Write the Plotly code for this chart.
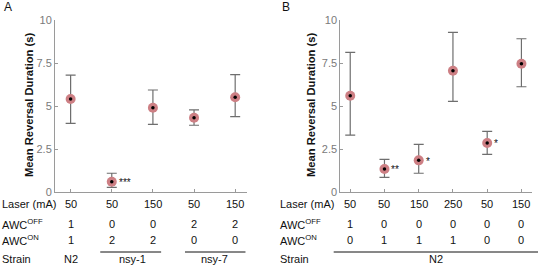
import plotly.graph_objects as go

W, H = 538, 266

# ---- Data ----
a_mean = [5.41, 0.60, 4.90, 4.32, 5.51]
a_upper = [6.80, 1.09, 5.93, 4.77, 6.82]
a_lower = [3.99, 0.27, 3.93, 3.88, 4.38]
a_stars = ["", "***", "", "", ""]
a_laser = ["50", "50", "150", "50", "150"]
a_awc_off = ["1", "0", "0", "2", "2"]
a_awc_on = ["1", "2", "2", "0", "0"]

b_mean = [5.60, 1.34, 1.84, 7.05, 2.85, 7.46]
b_upper = [8.12, 1.90, 2.77, 9.28, 3.53, 8.91]
b_lower = [3.31, 0.85, 1.09, 5.27, 2.19, 6.12]
b_stars = ["", "**", "*", "", "*", ""]
b_laser = ["50", "50", "150", "250", "50", "150"]
b_awc_off = ["1", "0", "0", "0", "0", "0"]
b_awc_on = ["0", "1", "1", "1", "0", "0"]

row_labels = ["Laser (mA)", "AWC<sup>OFF</sup>", "AWC<sup>ON</sup>", "Strain"]
yticks = [0, 2.5, 5, 7.5, 10]
yticktext = ["0", "2.5", "5", "7.5", "10"]

FONT = "Liberation Sans, Arial, sans-serif"
PINK = "#cd7f84"
GRAY = "#6e6e6e"
TXT = 11

fig = go.Figure()

def add_panel(xa, ya, mean, upper, lower):
    xs = list(range(1, len(mean) + 1))
    fig.add_trace(go.Scatter(
        x=xs, y=mean, mode="markers", xaxis=xa, yaxis=ya,
        marker=dict(size=10, color=PINK, line=dict(width=0)),
        error_y=dict(type="data", symmetric=False,
                     array=[u - m for u, m in zip(upper, mean)],
                     arrayminus=[m - l for m, l in zip(mean, lower)],
                     color=GRAY, thickness=1.2, width=5),
        showlegend=False, hoverinfo="skip", cliponaxis=False))
    fig.add_trace(go.Scatter(
        x=xs, y=mean, mode="markers", xaxis=xa, yaxis=ya,
        marker=dict(size=3.5, color="black"),
        showlegend=False, hoverinfo="skip", cliponaxis=False))

add_panel("x", "y", a_mean, a_upper, a_lower)
add_panel("x2", "y2", b_mean, b_upper, b_lower)

ydom = [1 - 192 / H, 1 - 20 / H]
axis_common = dict(showgrid=False, zeroline=False, showline=True, linecolor="#9a9a9a",
                   linewidth=1, ticks="inside", ticklen=3, tickcolor="#9a9a9a",
                   automargin=False)
fig.update_layout(
    width=W, height=H, margin=dict(l=0, r=0, t=0, b=0, autoexpand=False),
    paper_bgcolor="white", plot_bgcolor="white",
    font=dict(family=FONT, size=11, color="#111"),
    xaxis=dict(domain=[55 / W, 246.7 / W], range=[0.62, 5.28], tickvals=[1, 2, 3, 4, 5],
               showticklabels=False, **axis_common),
    yaxis=dict(domain=ydom, range=[0, 10], tickvals=yticks, ticktext=yticktext,
               tickfont=dict(size=11, color="#7a7a7a"), anchor="x", **axis_common),
    xaxis2=dict(domain=[340.3 / W, 531.7 / W], range=[0.71, 6.3], tickvals=[1, 2, 3, 4, 5, 6],
                showticklabels=False, anchor="y2", **axis_common),
    yaxis2=dict(domain=ydom, range=[0, 10], tickvals=yticks, ticktext=yticktext,
                tickfont=dict(size=11, color="#7a7a7a"), anchor="x2", **axis_common),
)

ann = []
def py(px):
    return 1 - px / H

row_y = [204, 224, 240, 259]

# panel letters
ann.append(dict(text="A", x=2 / W, y=py(7), xref="paper", yref="paper",
                xanchor="left", yanchor="middle", showarrow=False, font=dict(size=12)))
ann.append(dict(text="B", x=280 / W, y=py(7), xref="paper", yref="paper",
                xanchor="left", yanchor="middle", showarrow=False, font=dict(size=12)))

# y titles
for xp in [29, 311]:
    ann.append(dict(text="<b>Mean Reversal Duration (s)</b>", x=xp / W, y=py(105),
                    xref="paper", yref="paper", textangle=-90, showarrow=False,
                    xanchor="center", yanchor="middle", font=dict(size=11.2, color="#111")))

# row labels
for x0 in [0, 278]:
    for lab, yy in zip(row_labels, row_y):
        ann.append(dict(text=lab, x=x0 / W, y=py(yy), xref="paper", yref="paper",
                        xanchor="left", yanchor="middle", showarrow=False,
                        font=dict(size=TXT, color="#111")))

def table(xref, rows, stars, mean):
    for r, yy in zip(rows, row_y[:3]):
        for i, v in enumerate(r):
            ann.append(dict(text=v, x=i + 1, y=py(yy), xref=xref, yref="paper",
                            xanchor="center", yanchor="middle", showarrow=False,
                            font=dict(size=TXT, color="#111")))
    yref = "y" if xref == "x" else "y2"
    for i, s in enumerate(stars):
        if s:
            ann.append(dict(text=s, x=i + 1, y=mean[i], xref=xref, yref=yref,
                            xanchor="left", yanchor="middle", xshift=5, yshift=-1,
                            showarrow=False, font=dict(size=10, color="#111")))

table("x", [a_laser, a_awc_off, a_awc_on], a_stars, a_mean)
table("x2", [b_laser, b_awc_off, b_awc_on], b_stars, b_mean)

# strain labels
strain_a = [("N2", 1), ("nsy-1", 2.5), ("nsy-7", 4.5)]
for t, xv in strain_a:
    ann.append(dict(text=t, x=xv, y=py(259), xref="x", yref="paper",
                    xanchor="center", yanchor="middle", showarrow=False,
                    font=dict(size=TXT, color="#111")))
ann.append(dict(text="N2", x=3.5, y=py(259), xref="x2", yref="paper",
                xanchor="center", yanchor="middle", showarrow=False,
                font=dict(size=TXT, color="#111")))

shapes = [
    dict(type="line", xref="x", yref="paper", x0=1.72, x1=3.2, y0=py(252), y1=py(252),
         line=dict(color="#111", width=1)),
    dict(type="line", xref="x", yref="paper", x0=3.78, x1=5.25, y0=py(252), y1=py(252),
         line=dict(color="#111", width=1)),
    dict(type="line", xref="paper", yref="paper", x0=333.7 / W, x1=1, y0=py(252), y1=py(252),
         line=dict(color="#111", width=1)),
]
fig.update_layout(annotations=ann, shapes=shapes)
fig.write_html("out.html", config={"displayModeBar": False},
               post_script="document.body.style.margin='0';document.body.style.padding='0';document.body.style.overflow='hidden';")
